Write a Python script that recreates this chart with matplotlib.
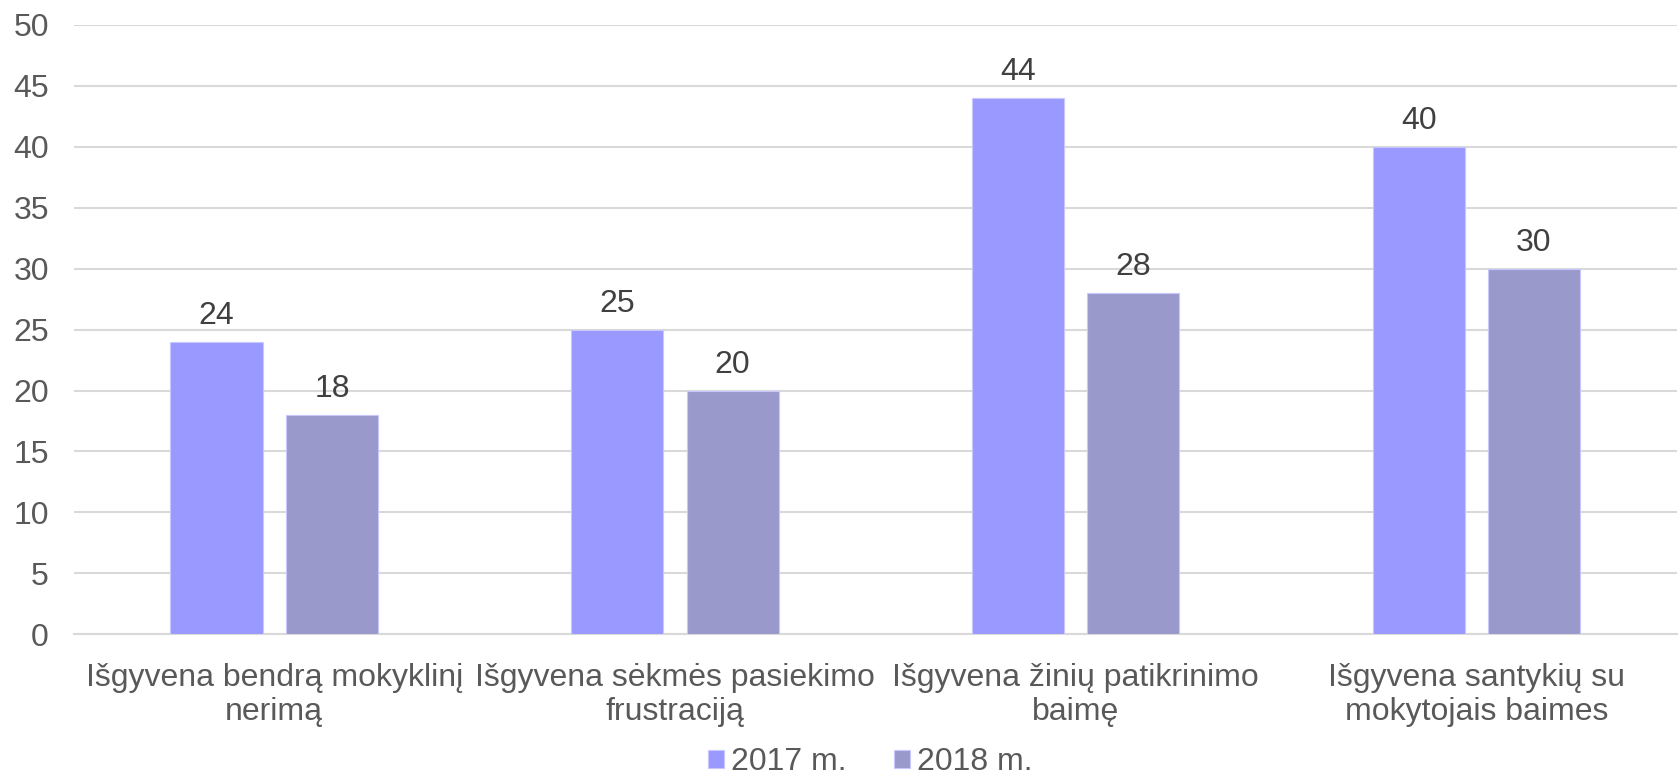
import numpy as np
import matplotlib.pyplot as plt

plt.rcParams['font.family'] = ['Liberation Sans', 'DejaVu Sans']

categories = ['Išgyvena bendrą mokyklinį\nnerimą',
              'Išgyvena sėkmės pasiekimo\nfrustraciją',
              'Išgyvena žinių patikrinimo\nbaimę',
              'Išgyvena santykių su\nmokytojais baimes']
series = ['2017 m.', '2018 m.']
v2017 = [24, 25, 44, 40]
v2018 = [18, 20, 28, 30]
colors = ['#9999FF', '#9999CC']

fs = 23
fig = plt.figure(figsize=(16.8, 7.81), dpi=100)
ax = fig.add_axes([0.044, 0.188, 0.954, 0.78])

x = np.arange(len(categories))
w = 0.23
gap = 0.058
off = (w + gap) / 2
for vals, sign, col, lab in [(v2017, -1, colors[0], series[0]), (v2018, 1, colors[1], series[1])]:
    bars = ax.bar(x + sign * off, vals, width=w, color=col, label=lab, zorder=3,
                  edgecolor='#c8c8ff', linewidth=0.8)
    for b, v in zip(bars, vals):
        ax.text(b.get_x() + b.get_width() / 2, v + 0.9, str(v), ha='center', va='bottom',
                fontsize=fs, color='#404040')

ax.set_xlim(-0.5, len(categories) - 0.5)
ax.set_ylim(0, 50)
ax.set_yticks(range(0, 51, 5))
ax.yaxis.grid(True, color='#d9d9d9', linewidth=1.5, zorder=0)
ax.set_axisbelow(True)
for s in ['top', 'right', 'left']:
    ax.spines[s].set_visible(False)
ax.spines['bottom'].set_color('#d9d9d9')
ax.spines['bottom'].set_linewidth(1.5)
ax.set_xticks(x)
ax.set_xticklabels(categories, fontsize=fs, color='#595959', linespacing=1.16)
ax.tick_params(axis='x', length=0, pad=21)
ax.tick_params(axis='y', length=0, labelsize=fs, labelcolor='#595959', pad=18)

leg = fig.legend(loc='lower center', bbox_to_anchor=(0.518, -0.032), ncol=2, frameon=False,
                 fontsize=fs, handlelength=0.5, handleheight=0.5, handletextpad=0.2,
                 columnspacing=1.5)
for t in leg.get_texts():
    t.set_color('#595959')

fig.savefig('out.png', dpi=100)
